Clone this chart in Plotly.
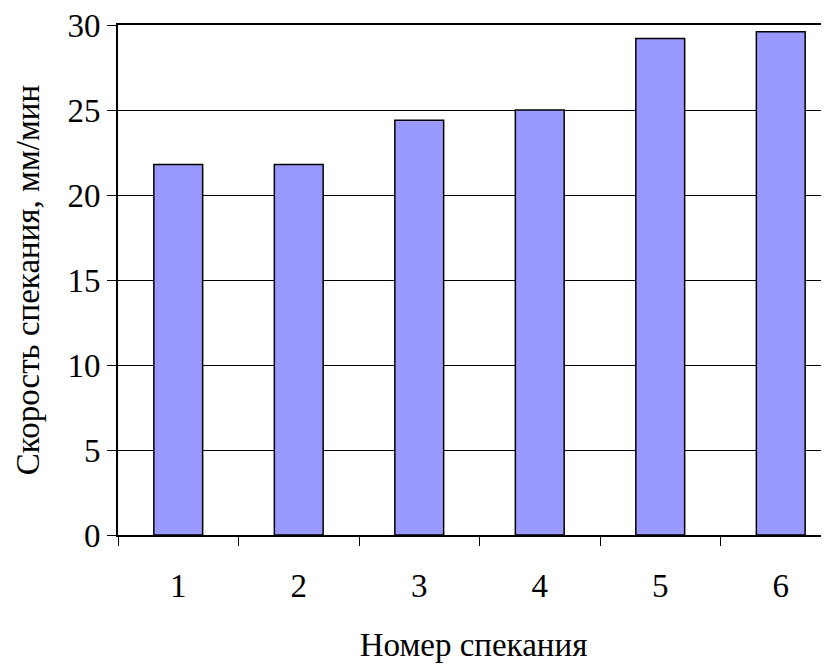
import plotly.graph_objects as go

categories = [1, 2, 3, 4, 5, 6]
values = [21.8, 21.8, 24.4, 25.0, 29.2, 29.6]
y_ticks = [0, 5, 10, 15, 20, 25, 30]
x_title = "Номер спекания"
y_title = "Скорость спекания, мм/мин"

font_family = "Liberation Serif, Times New Roman, serif"

fig = go.Figure()
fig.add_trace(go.Bar(
    x=categories, y=values,
    marker=dict(color="#9999FF", line=dict(color="black", width=1.5)),
    width=0.405,
))

# page has an 8px body margin, so the figure starts at (8, 8)
fig.update_layout(
    width=821, height=656,
    margin=dict(l=110, r=0, t=17, b=129),
    paper_bgcolor="white", plot_bgcolor="white",
    font=dict(family=font_family, size=33, color="black"),
    showlegend=False,
)
fig.update_xaxes(
    range=[0.5, 0.5 + (821 - 110) / 120.5],
    tickvals=categories, ticktext=[str(c) for c in categories],
    ticks="", ticklabelstandoff=20,
    minor=dict(tickvals=[c - 0.5 for c in categories] + [6.5], ticks="outside",
               ticklen=9, tickwidth=1, tickcolor="black", showgrid=False),
    showline=True, linecolor="black", linewidth=2, mirror=True,
    showgrid=False, zeroline=False,
    title=dict(text=x_title, standoff=30, font=dict(size=33)),
)
fig.update_yaxes(
    range=[0, 30], tickvals=y_ticks,
    ticks="outside", ticklen=9, tickwidth=1, tickcolor="black",
    ticklabeloverflow="allow",
    showline=True, linecolor="black", linewidth=2,
    showgrid=True, gridcolor="black", gridwidth=1, zeroline=False,
    title=dict(text=y_title, standoff=18, font=dict(size=33)),
)

fig.write_html("out.html")
